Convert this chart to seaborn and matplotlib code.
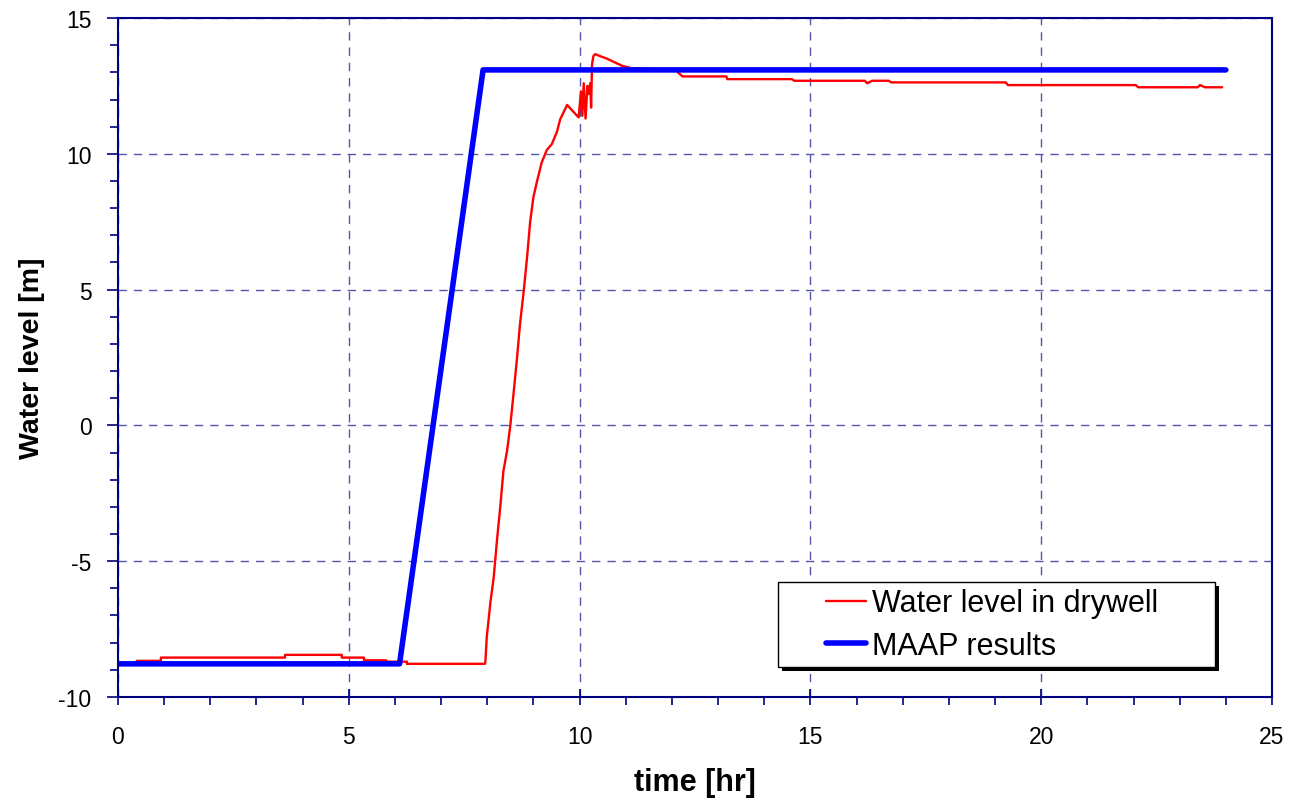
import numpy as np
import pandas as pd
import matplotlib
matplotlib.use("Agg")
import matplotlib.pyplot as plt
from matplotlib.ticker import MultipleLocator
from matplotlib.patches import Rectangle
import seaborn as sns

drywell_t = [0.0, 0.41, 0.41, 0.93, 0.93, 3.62, 3.62, 4.85, 4.85, 5.33, 5.33,
             5.81, 5.81, 6.26, 6.26, 7.95, 7.96, 7.99, 8.07, 8.14, 8.21, 8.28,
             8.35, 8.43, 8.50, 8.57, 8.64, 8.71, 8.79, 8.86, 8.93, 9.00, 9.08,
             9.18, 9.29, 9.40, 9.51, 9.58, 9.73, 9.98, 10.03, 10.06, 10.09,
             10.13, 10.17, 10.20, 10.23, 10.25, 10.27, 10.30, 10.34, 10.44,
             10.60, 10.76, 10.92, 11.13, 12.10, 12.13, 12.23, 13.18, 13.20,
             14.60, 14.65, 16.18, 16.23, 16.34, 16.70, 16.75, 19.23, 19.28,
             22.05, 22.10, 23.39, 23.44, 23.55, 23.92]
drywell_v = [-8.78, -8.78, -8.67, -8.67, -8.55, -8.55, -8.45, -8.45, -8.55, -8.55, -8.65,
             -8.65, -8.70, -8.70, -8.78, -8.78, -8.70, -7.79, -6.50, -5.60, -4.25, -3.04,
             -1.69, -0.93, 0.00, 1.17, 2.38, 3.73, 4.94, 6.14, 7.50, 8.40, 9.00,
             9.68, 10.14, 10.36, 10.81, 11.27, 11.80, 11.34, 12.30, 11.40, 12.60,
             11.30, 12.50, 12.20, 12.60, 11.70, 13.30, 13.60, 13.67, 13.60,
             13.50, 13.37, 13.24, 13.15, 13.10, 13.00, 12.85, 12.85, 12.75,
             12.75, 12.69, 12.69, 12.60, 12.69, 12.69, 12.63, 12.63, 12.53,
             12.53, 12.45, 12.45, 12.53, 12.45, 12.45]

# MAAP code results
maap_t = [0.0, 6.10, 7.91, 24.0]
maap_v = [-8.78, -8.78, 13.09, 13.09]

red = pd.DataFrame({"t": drywell_t, "level": drywell_v})
blue = pd.DataFrame({"t": maap_t, "level": maap_v})

sns.set_style("white")
plt.rcParams["font.family"] = ["Liberation Sans", "DejaVu Sans"]
plt.rcParams["axes.unicode_minus"] = False

fig = plt.figure(figsize=(12.89, 8.03), dpi=100)
ax = fig.add_axes([0.0915, 0.1308, 0.8953, 0.8455])

navy = "#000080"
sns.lineplot(data=red, x="t", y="level", color="#ff0000", lw=1.7,
             sort=False, estimator=None, ax=ax, label="Water level in drywell")
sns.lineplot(data=blue, x="t", y="level", color="#0000ff", lw=4,
             sort=False, estimator=None, ax=ax, label="MAAP results")

ax.set_xlim(0, 25)
ax.set_ylim(-10, 15)
ax.xaxis.set_major_locator(MultipleLocator(5))
ax.xaxis.set_minor_locator(MultipleLocator(1))
ax.yaxis.set_major_locator(MultipleLocator(5))
ax.yaxis.set_minor_locator(MultipleLocator(1))
ax.grid(True, which="major", color="#5555aa", linestyle=(0, (6, 5)), lw=1)
ax.tick_params(axis="x", which="major", direction="inout", length=12, width=1.2,
               color=navy, labelsize=16.5, labelcolor="black", bottom=True, pad=14)
ax.tick_params(axis="y", which="major", direction="out", length=8, width=1.2,
               color=navy, labelsize=16.5, labelcolor="black", left=True, pad=11)
ax.tick_params(which="minor", direction="out", length=6, width=1.2,
               color=navy, bottom=True, left=True)
for s in ax.spines.values():
    s.set_color(navy)
    s.set_linewidth(1.5)

ax.set_xlabel("time [hr]", fontsize=22, fontweight="bold", color="black", labelpad=14)
ax.set_ylabel("Water level [m]", fontsize=20.5, fontweight="bold", color="black", labelpad=10)

# legend box with hard black shadow, drawn in axes coordinates
bx, by, bw, bh = 0.572, 0.044, 0.379, 0.125
ax.add_patch(Rectangle((bx + 0.0035, by - 0.0055), bw, bh, transform=ax.transAxes,
                       facecolor="black", edgecolor="none", zorder=9))
ax.add_patch(Rectangle((bx, by), bw, bh, transform=ax.transAxes,
                       facecolor="white", edgecolor="black", lw=1, zorder=10))
leg = ax.legend(loc="center left", bbox_to_anchor=(0.6135, by + bh / 2),
                fontsize=22, frameon=False, handlelength=1.32,
                handletextpad=0.2, labelspacing=0.42, borderaxespad=0, borderpad=0,
                labelcolor="black")
leg.set_zorder(11)

fig.savefig("out.png", dpi=100)
